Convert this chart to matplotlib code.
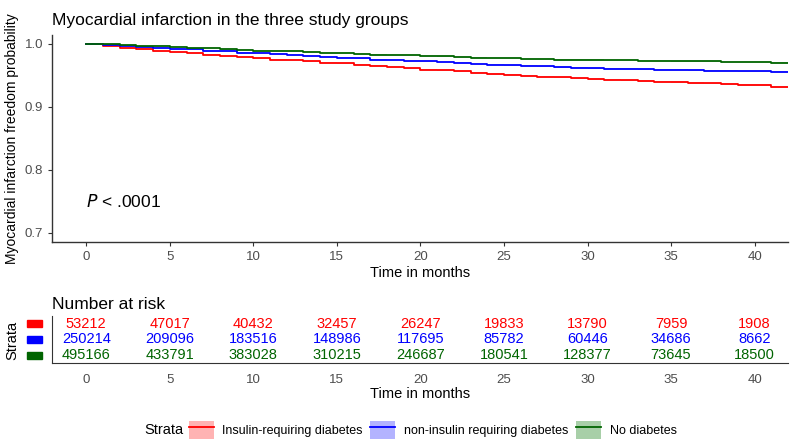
import numpy as np
import matplotlib
matplotlib.use("Agg")
from matplotlib import pyplot as plt
from matplotlib.patches import Patch, Rectangle
from matplotlib.lines import Line2D

plt.rcParams['font.family'] = ['Liberation Sans', 'DejaVu Sans']

# survival curves (monthly, probability)
meses = list(range(0, 43))
insulina = [1.000, 0.996, 0.994, 0.992, 0.989, 0.987, 0.985, 0.983, 0.981, 0.979,
            0.977, 0.975, 0.974, 0.972, 0.970, 0.969, 0.967, 0.965, 0.963, 0.961,
            0.959, 0.958, 0.956, 0.954, 0.952, 0.951, 0.949, 0.948, 0.947, 0.945,
            0.944, 0.943, 0.942, 0.941, 0.940, 0.939, 0.938, 0.937, 0.936, 0.935,
            0.934, 0.932, 0.931]
no_insulina = [1.000, 0.998, 0.996, 0.995, 0.993, 0.992, 0.991, 0.989, 0.988, 0.986,
               0.985, 0.984, 0.982, 0.981, 0.979, 0.978, 0.977, 0.975, 0.974, 0.973,
               0.972, 0.971, 0.970, 0.968, 0.967, 0.966, 0.965, 0.964, 0.963, 0.962,
               0.961, 0.9605, 0.960, 0.9595, 0.959, 0.9585, 0.958, 0.9575, 0.957, 0.9565,
               0.956, 0.9555, 0.955]
sin_diabetes = [1.000, 0.999, 0.998, 0.997, 0.996, 0.995, 0.994, 0.993, 0.991, 0.990,
                0.989, 0.988, 0.988, 0.987, 0.986, 0.985, 0.984, 0.983, 0.982, 0.982,
                0.981, 0.980, 0.979, 0.978, 0.977, 0.977, 0.976, 0.976, 0.975, 0.975,
                0.975, 0.974, 0.974, 0.973, 0.973, 0.972, 0.972, 0.972, 0.971, 0.971,
                0.971, 0.970, 0.970]

etiquetas = ["Insulin-requiring diabetes", "non-insulin requiring diabetes", "No diabetes"]
colores = ["#ff0000", "#0000ff", "#006400"]
relleno = ["#ffb3b3", "#b3b3ff", "#a8cfa8"]

# number at risk
tiempos = [0, 5, 10, 15, 20, 25, 30, 35, 40]
riesgo_insulina = [53212, 47017, 40432, 32457, 26247, 19833, 13790, 7959, 1908]
riesgo_no_insulina = [250214, 209096, 183516, 148986, 117695, 85782, 60446, 34686, 8662]
riesgo_sin = [495166, 433791, 383028, 310215, 246687, 180541, 128377, 73645, 18500]

gris = "#4d4d4d"
fig = plt.figure(figsize=(8, 4.47), dpi=100)

#########################################
#   curvas
#########################################
ax = fig.add_axes([0.065, 0.4586, 0.92, 0.4631])
curvas = [insulina, no_insulina, sin_diabetes]
for i in range(3):
    y = np.array(curvas[i])
    ancho = 0.0015 * np.array(meses) / 42 * (3 - i) / 3
    ax.fill_between(meses, y - ancho, y + ancho,
                    step="post", color=relleno[i], alpha=0.7, lw=0)
    ax.plot(meses, y, drawstyle="steps-post", color=colores[i], lw=1.3)

ax.set_xlim(-2.05, 42)
ax.set_ylim(0.685, 1.014)
ax.set_xticks(tiempos)
ax.set_yticks([0.7, 0.8, 0.9, 1.0])
ax.set_yticklabels(["0.7", "0.8", "0.9", "1.0"])
ax.tick_params(colors="#333333", labelcolor=gris, labelsize=9.5, length=3, width=0.8)
for s in ["top", "right"]:
    ax.spines[s].set_visible(False)
for s in ["left", "bottom"]:
    ax.spines[s].set_color("#333333")
    ax.spines[s].set_linewidth(1.0)
ax.set_xlabel("Time in months", fontsize=10.5, labelpad=2)
ax.set_ylabel("Myocardial infarction freedom probability", fontsize=10, labelpad=4)
ax.set_title("Myocardial infarction in the three study groups", loc="left", fontsize=12.5, pad=7)
ax.text(0, 0.75, r"$P$ < .0001", fontsize=12.5, va="center", ha="left")

#########################################
#   tabla de riesgo
#########################################
ax2 = fig.add_axes([0.065, 0.188, 0.92, 0.105])
filas = [riesgo_insulina, riesgo_no_insulina, riesgo_sin]
ypos = [2, 1, 0]
for i in range(3):
    for j in range(len(tiempos)):
        ax2.text(tiempos[j], ypos[i], str(filas[i][j]), color=colores[i],
                 ha="center", va="center", fontsize=10.5)
ax2.set_xlim(-2.05, 42)
ax2.set_ylim(-0.5, 2.5)
ax2.set_xticks(tiempos)
ax2.set_yticks([])
ax2.tick_params(axis="x", colors="#333333", labelcolor=gris, labelsize=9.5, length=0, pad=8)
for s in ["top", "right"]:
    ax2.spines[s].set_visible(False)
for s in ["left", "bottom"]:
    ax2.spines[s].set_color("#333333")
ax2.set_xlabel("Time in months", fontsize=10.5, labelpad=1)
ax2.set_title("Number at risk", loc="left", fontsize=12.5, pad=5)
for i in range(3):
    r = Rectangle((-0.034, ypos[i] - 0.22), 0.02, 0.44, transform=ax2.get_yaxis_transform(),
                  color=colores[i], clip_on=False)
    ax2.add_patch(r)
fig.text(0.016, 0.239, "Strata", rotation=90, ha="center", va="center", fontsize=10.5)

#########################################
#   leyenda
#########################################
manijas = []
for i in range(3):
    manijas.append((Patch(facecolor=relleno[i], edgecolor="none"),
                    Line2D([], [], color=colores[i], lw=1.3)))
fig.text(0.181, 0.038, "Strata", fontsize=10.5, ha="left", va="center")
fig.legend(manijas, etiquetas, loc="center left", bbox_to_anchor=(0.228, 0.038), ncol=3,
           frameon=False, fontsize=9, handlelength=2.0, handleheight=1.9,
           columnspacing=0.6, handletextpad=0.7, borderpad=0.0)

fig.savefig("out.png", dpi=100)
